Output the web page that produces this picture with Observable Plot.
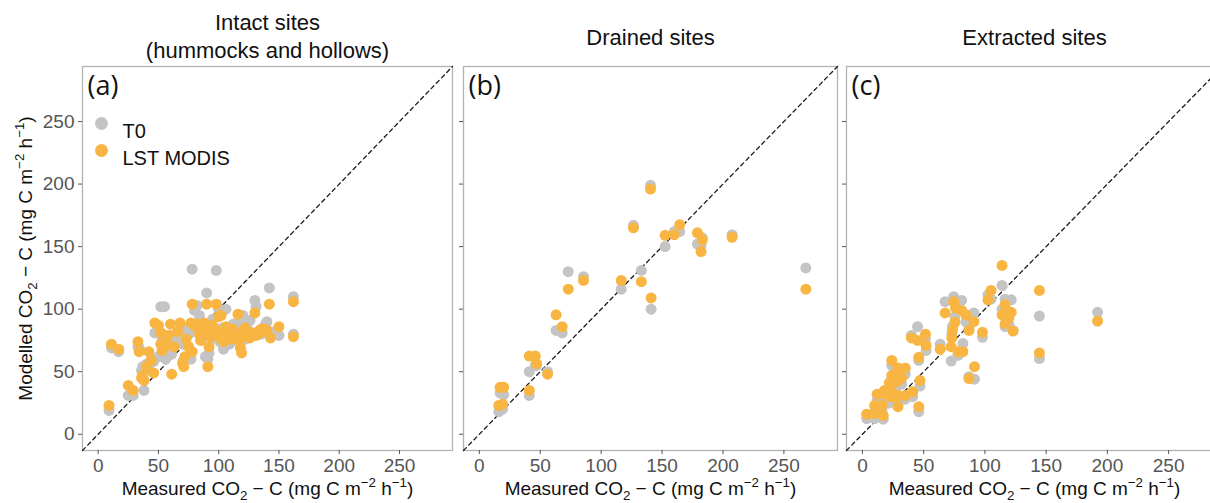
<!DOCTYPE html>
<html><head><meta charset="utf-8">
<script src="https://cdn.jsdelivr.net/npm/d3@7"></script>
<script src="https://cdn.jsdelivr.net/npm/@observablehq/plot@0.6"></script>
<style>
body{margin:0;background:#fff;overflow:hidden}
#fig{position:relative;width:1210px;height:503px;overflow:hidden;background:#fff}
#fig svg{position:absolute;top:0}
</style></head><body><div id="fig"></div>
<script>
// ---- data ----
const seriesNames = ["T0", "LST MODIS"];
const seriesColors = ["#c4c4c4", "#f8b541"];
const axisTicks = [0, 50, 100, 150, 200, 250];
const axisLimits = [-13, 294];
const panelTitles = ["Intact sites\n(hummocks and hollows)", "Drained sites", "Extracted sites"];
const panelLetters = ["(a)", "(b)", "(c)"];
const xTitle = "Measured CO₂ − C (mg C m⁻² h⁻¹)";
const yTitle = "Modelled CO₂ − C (mg C m⁻² h⁻¹)";

const intactMeasured = [9,11,17,25,29,33,34,36,37,38,40,42,44,46,47,50,52,52,55,53,56,58,60,61,63,66,68,70,71,72,73,75,77,78,78,80,82,84,85,86,88,89,90,91,92,93,95,96,98,99,100,101,102,103,104,106,107,109,110,112,114,116,117,118,119,120,121,122,124,126,128,130,131,133,135,137,139,140,142,143,150,162,162];
const intactT0 = [19,69,66,31,31,70,69,51,54,35,56,52,60,58,81,62,81,102,102,75,60,66,79,64,72,77,80,72,59,78,83,86,60,132,82,99,103,95,79,76,87,62,113,60,65,83,92,77,131,84,100,74,79,85,68,100,84,72,80,88,77,90,83,73,92,95,80,76,84,91,79,107,102,82,80,85,88,90,117,82,79,110,80];
const intactLST = [23,72,68,39,35,74,66,45,47,43,54,66,59,49,89,87,81,72,70,67,73,79,88,48,70,82,89,57,54,62,76,70,89,104,66,87,88,80,75,84,89,83,104,54,70,78,87,85,104,82,94,77,95,80,74,86,79,83,76,84,80,96,75,69,65,78,82,85,80,77,81,97,79,82,84,82,84,82,104,77,86,106,78];

const drainedMeasured = [16,19,17,20,41,41,46,47,56,63,68,73,85.5,116.5,126.5,133,141,140.5,152.5,160,164.5,179,182,183,207.5,268];
const drainedT0 = [18,20,33,31.5,31,50,55,55,50,83,81,130,126,116,167,131,100,199,150,162,162,152,151,157,159.5,133];
const drainedLST = [23,24,37.5,37.5,35,62.5,62.5,56.5,48,95.5,86,116,123,123,165,122,109,196,159,159.5,167.5,161,146,155.5,157.5,116];

const extractedMeasured = [3.5,10,17,10,16,12,16,20,18,22,24,26,29,30,35,41,22,28,24,30,32,35,29,24,46,47,46,52,40,45,51.5,63.5,72.5,73,78,82,91.5,87,73.5,75.5,67.5,74.5,76,81,84.5,87,91,98,102.5,105,114,116.5,121.5,114,119.5,116.5,123,144.5,144.5,192];
const extractedT0 = [12.5,12.5,12,18,20,27,28,27,30,25,29,26,24,27,28,30,36,38,44,41,40,48,48,55,18,38.5,59,67,79,86,76,72,58.5,80,63,72.5,44,46,86,94,106,110,104,107,90,85,97,77.5,111.5,108,119,108,107.5,100,88,86,83,94.5,60.5,97.5];
const extractedLST = [16,16.5,15,23,23,32,32.5,32,35,30,34,30,22,30.5,31,34,41,42,47,46,45,53,53,59,22,43,61.5,71,77,75,80,68,70,77,66,66,54,44.5,83,89.5,97,106,101,99,95.5,83,90,81.5,107.5,115,135,103.5,97.5,95.5,93,88.5,82.5,115,65,90.5];

// ---- layout ----
const layout = [
  {left: 0, mL: 82, w: 370, yLabels: true},
  {left: 457, mL: 6, w: 374, yLabels: false},
  {left: 840, mL: 6, w: 376, yLabels: false}
];
const panelData = [
  [intactMeasured, intactT0, intactLST],
  [drainedMeasured, drainedT0, drainedLST],
  [extractedMeasured, extractedT0, extractedLST]
];
const FONT = "'Liberation Sans', Arial, sans-serif";

function rowsFor(measured, values, series) {
  return measured.map((m, i) => ({m, v: values[i], s: series}));
}

function styleScripts(svg) {
  const map = {"₂": ["2", "sub"], "⁻": ["−", "sup"], "²": ["2", "sup"], "¹": ["1", "sup"]};
  d3.select(svg).selectAll("text").each(function () {
    const t = this.textContent;
    if (!/[₂⁻²¹]/.test(t) || this.querySelector("tspan")) return;
    const fs = 19;
    const runs = [];
    for (const ch of t) {
      const kind = map[ch] ? map[ch][1] : "n";
      const c = map[ch] ? map[ch][0] : ch;
      if (runs.length && runs[runs.length - 1].kind === kind) runs[runs.length - 1].s += c;
      else runs.push({kind, s: c});
    }
    this.textContent = "";
    let cur = 0;
    for (const r of runs) {
      const shift = r.kind === "sub" ? 0.28 * fs : r.kind === "sup" ? -0.42 * fs : 0;
      const ts = document.createElementNS("http://www.w3.org/2000/svg", "tspan");
      ts.setAttribute("dy", shift - cur);
      if (r.kind !== "n") ts.setAttribute("font-size", 0.7 * fs);
      ts.textContent = r.s;
      this.appendChild(ts);
      cur = shift;
    }
  });
}

const fig = document.getElementById("fig");
layout.forEach((L, p) => {
  const [meas, t0, lst] = panelData[p];
  const greyRows = rowsFor(meas, t0, seriesNames[0]);
  const orangeRows = rowsFor(meas, lst, seriesNames[1]);
  const marks = [
    Plot.frame({stroke: "#b3b3b3", strokeWidth: 1.3}),
    Plot.line(axisLimits, {x: d => d, y: d => d, stroke: "#1a1a1a", strokeWidth: 1.3, strokeDasharray: "4,3.5"}),
    Plot.dot(greyRows, {x: "m", y: "v", r: 5.5, fill: seriesColors[0]}),
    Plot.dot(orangeRows, {x: "m", y: "v", r: 5.5, fill: seriesColors[1]}),
    Plot.axisX(axisTicks, {tickSize: 4, tickPadding: 4, fontSize: 19, color: "#555", label: null}),
    L.yLabels
      ? Plot.axisY(axisTicks, {tickSize: 4, tickPadding: 4, fontSize: 19, color: "#555", label: null})
      : Plot.axisY(axisTicks, {tickSize: 4, stroke: "#555", fill: "none", label: null}),
    Plot.text([panelTitles[p]], {frameAnchor: "top", dy: p === 0 ? -9 : -22, lineAnchor: "bottom", fontSize: 22, lineHeight: 1.23, fill: "#111"}),
    Plot.text([panelLetters[p]], {frameAnchor: "top-left", dx: 5, dy: 9, lineAnchor: "top", textAnchor: "start", fontSize: 27, fontFamily: "'Open Sans', sans-serif", fill: "#111"}),
    Plot.text([xTitle], {frameAnchor: "bottom", dy: 44, fontSize: 19, fill: "#111"})
  ];
  if (p === 0) {
    marks.push(
      Plot.text([yTitle], {frameAnchor: "left", textAnchor: "middle", dx: -57, rotate: -90, fontSize: 19, fill: "#111"}),
      Plot.dot([seriesNames[0]], {frameAnchor: "top-left", dx: 19, dy: 57, r: 6.5, fill: seriesColors[0]}),
      Plot.dot([seriesNames[1]], {frameAnchor: "top-left", dx: 19, dy: 84, r: 6.5, fill: seriesColors[1]}),
      Plot.text([seriesNames[0]], {frameAnchor: "top-left", dx: 40, dy: 57, textAnchor: "start", fontSize: 20, fill: "#111"}),
      Plot.text([seriesNames[1]], {frameAnchor: "top-left", dx: 40, dy: 84, textAnchor: "start", fontSize: 20, fill: "#111"})
    );
  }
  const svg = Plot.plot({
    width: L.mL + L.w + 1,
    height: 503,
    marginLeft: L.mL, marginRight: 1, marginTop: 66, marginBottom: 53,
    x: {domain: axisLimits},
    y: {domain: axisLimits},
    style: {fontFamily: FONT, background: "transparent", overflow: "visible"},
    marks
  });
  svg.style.left = L.left + "px";
  styleScripts(svg);
  fig.appendChild(svg);
});
</script></body></html>
